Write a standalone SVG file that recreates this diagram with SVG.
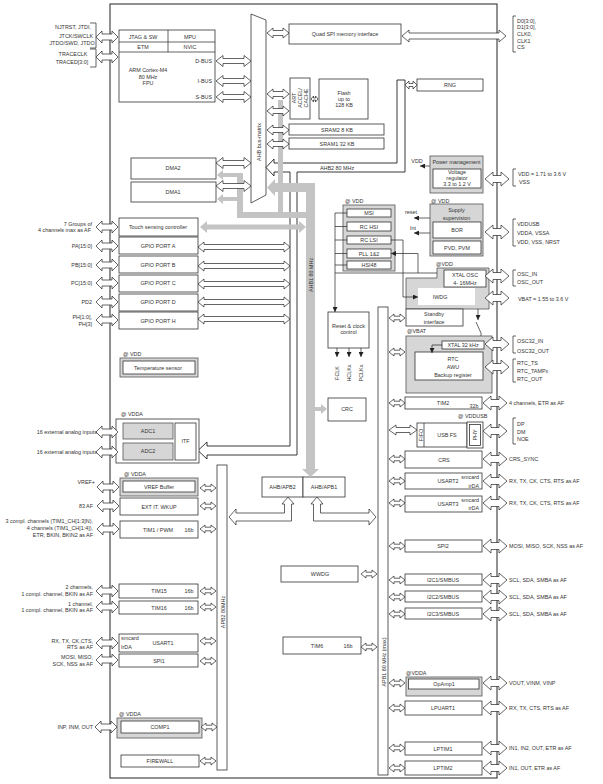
<svg xmlns="http://www.w3.org/2000/svg" width="603" height="784" viewBox="0 0 603 784">
<style>
.t{font-family:"Liberation Sans",Arial,sans-serif;font-size:5.4px;fill:#333}
.c{text-anchor:middle}
.r{text-anchor:end}
.b{fill:#fff;stroke:#333;stroke-width:0.8}
.g{fill:#d6d6d6;stroke:#555;stroke-width:0.8}
.w{fill:#fff;stroke:none}
.ar{fill:#fff;stroke:#222;stroke-width:0.7}
.gb{fill:#c4c4c4;stroke:none}
.ln{fill:none;stroke:#222;stroke-width:0.7}
.lnm{fill:none;stroke:#222;stroke-width:0.7;marker-end:url(#ah)}
.pipe{fill:none;stroke:#222;stroke-width:0.9}
</style>
<defs>
<marker id="ah" viewBox="0 0 10 10" refX="10" refY="5" markerWidth="5" markerHeight="5" markerUnits="userSpaceOnUse" orient="auto"><path d="M0,0 L10,5 L0,10 Z" fill="#222"/></marker>
<path id="aL" class="ar" d="M0,0 L6,-6 L6,-3 L16,-3 L16,-6 L22,0 L16,6 L16,3 L6,3 L6,6 Z"/>
<path id="aR" class="ar" d="M0,0 L8,-7 L8,-3.5 L16,-3.5 L16,-7 L24,0 L16,7 L16,3.5 L8,3.5 L8,7 Z"/>
<path id="aS" class="ar" d="M0,0 L5,-4 L5,-1.8 L11,-1.8 L11,-4 L16,0 L11,4 L11,1.8 L5,1.8 L5,4 Z"/>
<path id="aB" class="ar" d="M0,0 L7,-5.5 L7,-2.5 L28,-2.5 L28,-5.5 L35,0 L28,5.5 L28,2.5 L7,2.5 L7,5.5 Z"/>
<path id="aG" class="ar" d="M0,0 L6,-5 L6,-2.5 L86,-2.5 L86,-5 L92,0 L86,5 L86,2.5 L6,2.5 L6,5 Z"/>
<path id="aM" class="ar" d="M0,0 L6,-5 L6,-2.5 L16,-2.5 L16,-5 L22,0 L16,5 L16,2.5 L6,2.5 L6,5 Z"/>
</defs>
<rect x="0" y="0" width="603" height="784" fill="#fff"/>
<rect id="chip" x="110" y="4" width="387" height="774" fill="none" stroke="#222" stroke-width="1"/>

<!-- external labels left -->
<g id="ext-left">
<text class="t c" x="73" y="29">NJTRST, JTDI,</text>
<text class="t c" x="76" y="38">JTCK/SWCLK</text>
<text class="t c" x="72" y="45">JTDO/SWD, JTDO</text>
<text class="t c" x="73" y="56">TRACECLK</text>
<text class="t c" x="72" y="64">TRACED[3:0]</text>
<path class="ln" d="M90,23 L96,23 L96,48 L90,48 M90,49 L96,49 L96,67 L90,67"/>
<text class="t r" x="92" y="226">7 Groups of</text>
<text class="t r" x="91" y="232">4 channels max as AF</text>
<text class="t r" x="92" y="248">PA[15:0]</text>
<text class="t r" x="92" y="267">PB[15:0]</text>
<text class="t r" x="92" y="285">PC[15:0]</text>
<text class="t r" x="92" y="304">PD2</text>
<text class="t r" x="92" y="319">PH[1:0],</text>
<text class="t r" x="92" y="326">PH[3]</text>
<text class="t r" x="97" y="434">16 external analog inputs</text>
<text class="t r" x="97" y="454">16 external analog inputs</text>
<text class="t r" x="95" y="484">VREF+</text>
<text class="t r" x="93" y="508">83 AF</text>
<text class="t r" x="93" y="523">3 compl. channels (TIM1_CH[1:3]N),</text>
<text class="t r" x="93" y="530">4 channels (TIM1_CH[1:4]),</text>
<text class="t r" x="93" y="537">ETR, BKIN, BKIN2 as AF</text>
<text class="t r" x="93" y="589">2 channels,</text>
<text class="t r" x="93" y="596">1 compl. channel, BKIN as AF</text>
<text class="t r" x="93" y="606">1 channel,</text>
<text class="t r" x="93" y="612">1 compl. channel, BKIN as AF</text>
<text class="t r" x="93" y="643">RX, TX, CK,CTS,</text>
<text class="t r" x="93" y="649">RTS as AF</text>
<text class="t r" x="93" y="659">MOSI, MISO,</text>
<text class="t r" x="93" y="666">SCK, NSS as AF</text>
<text class="t r" x="93" y="729">INP, INM, OUT</text>
</g>

<!-- external labels right -->
<g id="ext-right">
<path class="ln" d="M516,16 L513,16 L513,52 L516,52 M516,169 L513,169 L513,186 L516,186 M516,219 L513,219 L513,246 L516,246 M516,270 L513,270 L513,286 L516,286 M516,336 L513,336 L513,353 L516,353 M516,359 L513,359 L513,382 L516,382 M516,418 L513,418 L513,444 L516,444"/>
<text class="t" x="517" y="23">D0[3:0],</text>
<text class="t" x="517" y="29">D1[3:0],</text>
<text class="t" x="517" y="36">CLK0,</text>
<text class="t" x="517" y="43">CLK1</text>
<text class="t" x="517" y="49">CS</text>
<text class="t" x="518" y="176">VDD = 1.71 to 3.6 V</text>
<text class="t" x="519" y="184">VSS</text>
<text class="t" x="517" y="226">VDDUSB</text>
<text class="t" x="517" y="235">VDDA, VSSA</text>
<text class="t" x="517" y="244">VDD, VSS, NRST</text>
<text class="t" x="517" y="276">OSC_IN</text>
<text class="t" x="517" y="284">OSC_OUT</text>
<text class="t" x="518" y="301">VBAT = 1.55 to 3.6 V</text>
<text class="t" x="517" y="343">OSC32_IN</text>
<text class="t" x="517" y="353">OSC32_OUT</text>
<text class="t" x="517" y="365">RTC_TS</text>
<text class="t" x="517" y="373">RTC_TAMPx</text>
<text class="t" x="517" y="381">RTC_OUT</text>
<text class="t" x="509" y="405">4 channels, ETR as AF</text>
<text class="t" x="517" y="426">DP</text>
<text class="t" x="517" y="434">DM</text>
<text class="t" x="517" y="441">NOE</text>
<text class="t" x="509" y="461">CRS_SYNC</text>
<text class="t" x="509" y="483">RX, TX, CK, CTS, RTS as AF</text>
<text class="t" x="509" y="505">RX, TX, CK, CTS, RTS as AF</text>
<text class="t" x="509" y="548">MOSI, MISO, SCK, NSS as AF</text>
<text class="t" x="509" y="582">SCL, SDA, SMBA as AF</text>
<text class="t" x="509" y="599">SCL, SDA, SMBA as AF</text>
<text class="t" x="509" y="616">SCL, SDA, SMBA as AF</text>
<text class="t" x="509" y="685">VOUT, VINM, VINP</text>
<text class="t" x="509" y="710">RX, TX, CTS, RTS as AF</text>
<text class="t" x="509" y="750">IN1, IN2, OUT, ETR as AF</text>
<text class="t" x="509" y="770">IN1, OUT, ETR as AF</text>
</g>

<!-- buses -->
<g id="ahb-matrix">
<path class="b" d="M251,14 L266,20 L266,195 L251,203 Z"/>
<text class="t c" transform="translate(261,142) rotate(-90)">AHB bus-matrix</text>
</g>
<g id="apb2-bus">
<rect class="b" x="217" y="465" width="10" height="305"/>
<text class="t c" transform="translate(224.5,612) rotate(-90)">APB2 80MHz</text>
</g>
<g id="apb1-bus">
<rect class="b" x="378" y="307" width="10" height="468"/>
<text class="t c" transform="translate(385.5,662) rotate(-90)">APB1 80 MHz (max)</text>
</g>
<g id="ahb2-bus">
<path class="pipe" d="M266,167.5 L274,159 L274,163 L397,163 L397,80 L405,80 L405,172 L297,172 L297,455 L207,455 L207,459 L198,450.5 L207,442 L207,446 L290,446 L290,172 L274,172 L274,176 Z"/>
<text class="t c" x="337" y="169.5">AHB2 80 MHz</text>
</g>

<!-- nodes -->
<g id="cortex">
<rect class="b" x="119" y="30" width="96" height="72"/>
<path class="ln" d="M119,42 L215,42 M119,52 L215,52 M168,30 L168,52"/>
<text class="t c" x="143" y="39">JTAG &amp; SW</text>
<text class="t c" x="190" y="39">MPU</text>
<text class="t c" x="143" y="49">ETM</text>
<text class="t c" x="190" y="49">NVIC</text>
<text class="t c" x="148" y="72">ARM Cortex-M4</text>
<text class="t c" x="148" y="79">80 MHz</text>
<text class="t c" x="148" y="85">FPU</text>
<text class="t r" x="212" y="63">D-BUS</text>
<text class="t r" x="212" y="83">I-BUS</text>
<text class="t r" x="212" y="99">S-BUS</text>
</g>
<g id="quadspi"><rect class="b" x="289" y="24" width="112" height="20"/><text class="t c" x="345" y="36">Quad SPI memory interface</text></g>
<g id="art"><rect class="b" x="290" y="78" width="20" height="41"/>
<text class="t c" transform="translate(300,98) rotate(-90)"><tspan x="0" y="-4">ART</tspan><tspan x="0" y="2">ACCEL/</tspan><tspan x="0" y="8">CACHE</tspan></text></g>
<g id="flash"><rect class="b" x="319" y="79" width="49" height="40"/>
<text class="t c" x="344" y="95">Flash</text><text class="t c" x="344" y="101">up to</text><text class="t c" x="344" y="107">128 KB</text></g>
<g id="sram2"><rect class="b" x="289" y="124" width="95" height="11"/><text class="t c" x="337" y="131.5">SRAM2 8 KB</text></g>
<g id="sram1"><rect class="b" x="289" y="138" width="95" height="11"/><text class="t c" x="337" y="145.5">SRAM1 32 KB</text></g>
<g id="rng"><rect class="b" x="417" y="79" width="66" height="12"/><text class="t c" x="450" y="87">RNG</text></g>
<g id="power">
<rect class="g" x="430" y="156" width="53" height="37"/>
<rect class="b" x="433" y="169" width="48" height="19"/>
<text class="t c" x="456.5" y="164">Power management</text>
<text class="t c" x="457" y="174">Voltage</text><text class="t c" x="457" y="180">regulator</text><text class="t c" x="457" y="186">3.3 to 1.2 V</text>
<text class="t c" x="417" y="163">VDD</text>
</g>
<g id="dma2"><rect class="b" x="131" y="158" width="85" height="21"/><text class="t c" x="173" y="170">DMA2</text></g>
<g id="dma1"><rect class="b" x="131" y="182" width="85" height="20"/><text class="t c" x="173" y="194">DMA1</text></g>
<g id="touch"><rect class="b" x="119" y="218" width="79" height="18"/><text class="t c" x="158" y="229">Touch sensing controller</text></g>
<g id="gpioa"><rect class="b" x="119" y="237" width="79" height="17"/><text class="t c" x="158" y="248">GPIO PORT A</text></g>
<g id="gpiob"><rect class="b" x="119" y="256" width="79" height="17"/><text class="t c" x="158" y="267">GPIO PORT B</text></g>
<g id="gpioc"><rect class="b" x="119" y="275" width="79" height="17"/><text class="t c" x="158" y="285">GPIO PORT C</text></g>
<g id="gpiod"><rect class="b" x="119" y="294" width="79" height="17"/><text class="t c" x="158" y="304">GPIO PORT D</text></g>
<g id="gpioh"><rect class="b" x="119" y="312" width="79" height="17"/><text class="t c" x="158" y="323">GPIO PORT H</text></g>
<g id="tempsensor">
<text class="t" x="123" y="356">@ VDD</text>
<rect class="g" x="120" y="358" width="78" height="19"/>
<rect class="b" x="123" y="361" width="72" height="13"/>
<text class="t c" x="158" y="369.5">Temperature sensor</text>
</g>
<g id="clocks">
<text class="t" x="345" y="203">@ VDD</text>
<rect class="g" x="343" y="205" width="52" height="66"/>
<rect class="b" x="347" y="209" width="44" height="8"/><text class="t c" x="369" y="215">MSI</text>
<rect class="b" x="347" y="222" width="44" height="9"/><text class="t c" x="369" y="228.5">RC HSI</text>
<rect class="b" x="347" y="236" width="44" height="8"/><text class="t c" x="369" y="242">RC LSI</text>
<rect class="b" x="347" y="249" width="44" height="9"/><text class="t c" x="369" y="255.5">PLL 1&amp;2</text>
<rect class="b" x="347" y="261" width="44" height="8"/><text class="t c" x="369" y="267">HSI48</text>
</g>
<g id="supply">
<text class="t" x="431" y="203">@ VDD</text>
<rect class="g" x="430" y="204" width="53" height="52"/>
<text class="t c" x="456.5" y="212">Supply</text><text class="t c" x="456.5" y="220">supervision</text>
<rect class="b" x="433" y="222" width="48" height="16"/><text class="t c" x="457" y="232">BOR</text>
<rect class="b" x="433" y="241" width="48" height="13"/><text class="t c" x="457" y="249.5">PVD, PVM</text>
<text class="t c" x="411" y="214">reset</text>
<text class="t c" x="413" y="230">Int</text>
</g>
<g id="hse-iwdg">
<text class="t" x="436" y="266">@VDD</text>
<path class="g" d="M437,268 L489,268 L489,309 L406,309 L406,278 L437,278 Z"/>
<rect class="w" x="418" y="288" width="57" height="17"/>
<text class="t c" x="440" y="299">IWDG</text>
<rect class="b" x="444" y="270" width="42" height="17"/>
<text class="t c" x="465" y="277">XTAL OSC</text><text class="t c" x="465" y="285">4- 16MHz</text>
</g>
<g id="standby"><rect class="b" x="406" y="309" width="57" height="17"/><text class="t c" x="434" y="316">Standby</text><text class="t c" x="434" y="324">interface</text></g>
<g id="rcc"><rect class="b" x="328" y="312" width="41" height="36"/><text class="t c" x="348.5" y="328">Reset &amp; clock</text><text class="t c" x="348.5" y="334">control</text>
<text class="t c" transform="translate(339,373) rotate(-90)">FCLK</text>
<text class="t c" transform="translate(351,373) rotate(-90)">HCLKx</text>
<text class="t c" transform="translate(363,373) rotate(-90)">PCLKx</text>
</g>
<g id="vbat">
<text class="t" x="407" y="333">@VBAT</text>
<rect class="g" x="406" y="336" width="86" height="57"/>
<rect class="b" x="442" y="341" width="42" height="8"/><text class="t c" x="463" y="347">XTAL 32 kHz</text>
<rect class="b" x="415" y="352" width="68" height="28"/>
<text class="t c" x="453" y="361">RTC</text><text class="t c" x="453" y="369">AWU</text><text class="t c" x="453" y="376.5">Backup register</text>
</g>
<g id="crc"><rect class="b" x="328" y="398" width="38" height="23"/><text class="t c" x="347" y="411">CRC</text></g>
<g id="tim2"><rect class="b" x="405" y="397" width="77" height="12"/><text class="t c" x="443" y="405">TIM2</text><text class="t c" x="474" y="407.5">32b</text></g>
<g id="usb">
<text class="t" x="458" y="418">@ VDDUSB</text>
<rect class="b" x="417" y="423" width="50" height="24"/>
<path class="ln" d="M424,423 L424,447"/>
<text class="t c" transform="translate(422.5,435) rotate(-90)">FIFO</text>
<text class="t c" x="447" y="437">USB FS</text>
<rect class="b" x="467" y="422" width="16" height="26"/>
<rect class="b" x="469.5" y="424.5" width="11" height="21"/>
<text class="t c" transform="translate(477,435) rotate(-90)">PHY</text>
</g>
<g id="crs"><rect class="b" x="405" y="451" width="77" height="17"/><text class="t c" x="444" y="462">CRS</text></g>
<g id="usart2"><rect class="b" x="405" y="473" width="77" height="16"/><text class="t c" x="448" y="483">USART2</text><text class="t r" x="479" y="479">smcard</text><text class="t r" x="479" y="488">irDA</text></g>
<g id="usart3"><rect class="b" x="405" y="496" width="77" height="16"/><text class="t c" x="448" y="506">USART3</text><text class="t r" x="479" y="502">smcard</text><text class="t r" x="479" y="510">irDA</text></g>
<g id="spi2"><rect class="b" x="405" y="540" width="77" height="12"/><text class="t c" x="443" y="548">SPI2</text></g>
<g id="i2c1"><rect class="b" x="405" y="574" width="77" height="11"/><text class="t c" x="443" y="581.5">I2C1/SMBUS</text></g>
<g id="i2c2"><rect class="b" x="405" y="591" width="77" height="11"/><text class="t c" x="443" y="598.5">I2C2/SMBUS</text></g>
<g id="i2c3"><rect class="b" x="405" y="608" width="77" height="11"/><text class="t c" x="443" y="615.5">I2C3/SMBUS</text></g>
<g id="opamp"><text class="t" x="406" y="675">@VDDA</text><rect class="g" x="406" y="677" width="76" height="19"/><rect class="b" x="408.5" y="679" width="70.5" height="10"/><text class="t c" x="444" y="686">OpAmp1</text></g>
<g id="lpuart1"><rect class="b" x="405" y="701" width="77" height="14"/><text class="t c" x="443" y="710">LPUART1</text></g>
<g id="lptim1"><rect class="b" x="405" y="742" width="77" height="13"/><text class="t c" x="443" y="750.5">LPTIM1</text></g>
<g id="lptim2"><rect class="b" x="405" y="761" width="77" height="14"/><text class="t c" x="443" y="770">LPTIM2</text></g>
<g id="adc">
<text class="t" x="121" y="416">@ VDDA</text>
<rect class="b" x="116" y="419" width="83" height="44"/>
<rect class="g" x="123" y="423" width="50" height="16"/><text class="t c" x="148" y="433">ADC1</text>
<rect class="g" x="123" y="443" width="50" height="17"/><text class="t c" x="148" y="453">ADC2</text>
<rect class="b" x="175" y="423" width="21" height="37"/><text class="t c" x="185.5" y="443">ITF</text>
</g>
<g id="vref"><text class="t" x="124" y="476">@ VDDA</text><rect class="g" x="120" y="478" width="78" height="18"/><rect class="b" x="123" y="481" width="72" height="11"/><text class="t c" x="159" y="488.5">VREF Buffer</text></g>
<g id="extit"><rect class="b" x="120" y="498" width="78" height="17"/><text class="t c" x="159" y="508.5">EXT IT. WKUP</text></g>
<g id="tim1"><rect class="b" x="120" y="521" width="78" height="17"/><text class="t c" x="158" y="532">TIM1 / PWM</text><text class="t c" x="189" y="532">16b</text></g>
<g id="tim15"><rect class="b" x="119" y="584" width="79" height="14"/><text class="t c" x="159" y="593">TIM15</text><text class="t c" x="189" y="593">16b</text></g>
<g id="tim16"><rect class="b" x="119" y="601" width="79" height="13"/><text class="t c" x="159" y="609.5">TIM16</text><text class="t c" x="189" y="609.5">16b</text></g>
<g id="usart1"><rect class="b" x="119" y="634" width="79" height="18"/><text class="t c" x="163" y="645">USART1</text><text class="t" x="121" y="640">smcard</text><text class="t" x="121" y="649">IrDA</text></g>
<g id="spi1"><rect class="b" x="119" y="654" width="79" height="13"/><text class="t c" x="159" y="662.5">SPI1</text></g>
<g id="comp1"><text class="t" x="119" y="716">@ VDDA</text><rect class="g" x="117" y="718" width="85" height="20"/><rect class="b" x="121" y="721" width="78" height="12"/><text class="t c" x="160" y="729">COMP1</text></g>
<g id="firewall"><rect class="b" x="121" y="755" width="78" height="12"/><text class="t c" x="160" y="763">FIREWALL</text></g>
<g id="ahbapb2"><rect class="b" x="262" y="477" width="41" height="20"/><text class="t c" x="282.5" y="489">AHB/APB2</text></g>
<g id="ahbapb1"><rect class="b" x="303" y="477" width="42" height="20"/><text class="t c" x="324" y="489">AHB/APB1</text></g>
<g id="wwdg"><rect class="b" x="281" y="566" width="77" height="16"/><text class="t c" x="320" y="576">WWDG</text></g>
<g id="tim6"><rect class="b" x="283" y="637" width="78" height="17"/><text class="t c" x="317" y="648">TIM6</text><text class="t c" x="348" y="648">16b</text></g>

<!-- connectors -->
<g id="connectors">
<!-- gray AHB1 network -->
<path class="gb" d="M267,187.5 L275,179 L275,183 L315,183 L315,469 L319,469 L310.5,477 L302,469 L306,469 L306,192 L275,192 L275,196 Z"/>
<rect class="gb" x="278" y="100" width="5" height="118"/>
<rect class="gb" x="237" y="212" width="78" height="6"/>
<rect class="gb" x="237" y="173" width="6" height="45"/>
<path class="gb" d="M217,175 L223,170 L223,173 L240,173 L240,177 L223,177 L223,180 Z"/>
<path class="gb" d="M217,199 L223,194 L223,197 L243,197 L243,201 L223,201 L223,204 Z"/>
<path class="gb" d="M200,227 L207,221 L207,224.5 L299,224.5 L299,221 L306,227 L299,233 L299,229.5 L207,229.5 L207,233 Z"/>
<path class="gb" d="M315,407 L321,407 L321,404 L327,409 L321,414 L321,411 L315,411 Z"/>
<text class="t c" transform="translate(312.5,275) rotate(-90)">AHB1 80 MHz</text>

<!-- left external arrows -->
<use href="#aL" x="96" y="37"/><use href="#aL" x="96" y="57"/>
<use href="#aL" x="96" y="227"/><use href="#aL" x="96" y="246"/><use href="#aL" x="96" y="265"/><use href="#aL" x="96" y="283"/><use href="#aL" x="96" y="302"/><use href="#aL" x="96" y="320"/>
<use href="#aL" x="96" y="432"/><use href="#aL" x="96" y="452"/><use href="#aL" x="97" y="487"/><use href="#aL" x="97" y="506"/><use href="#aL" x="97" y="529"/>
<use href="#aL" x="96" y="591"/><use href="#aL" x="96" y="607"/><use href="#aL" x="96" y="643"/><use href="#aL" x="96" y="660"/><use href="#aL" x="95" y="727"/>

<!-- cortex / dma to bus matrix -->
<use href="#aB" x="216" y="61"/><use href="#aB" x="216" y="81"/><use href="#aB" x="216" y="97"/>
<use href="#aB" x="216" y="163"/><use href="#aB" x="216" y="186"/>
<!-- bus matrix to slaves -->
<use href="#aM" x="267" y="33"/><use href="#aM" x="267" y="94"/><use href="#aM" x="267" y="111"/><use href="#aM" x="267" y="130"/><use href="#aM" x="267" y="144"/>
<path class="ar" d="M402,36 L409,30 L409,33 L499,33 L499,30 L506,36 L499,42 L499,39 L409,39 L409,42 Z"/>
<path class="ar" d="M405,85 L409,81 L409,83.5 L413,83.5 L413,81 L417,85 L413,89 L413,86.5 L409,86.5 L409,89 Z"/>
<path class="ar" d="M311,99 L313.5,96 L313.5,98 L315.5,98 L315.5,96 L318,99 L315.5,102 L315.5,100 L313.5,100 L313.5,102 Z"/>
<!-- GPIO to AHB2 -->
<use href="#aG" x="198" y="247"/><use href="#aG" x="198" y="266"/><use href="#aG" x="198" y="284"/><use href="#aG" x="198" y="302"/><use href="#aG" x="198" y="319"/>
<!-- APB2 peripherals -->
<use href="#aS" x="200" y="488"/><use href="#aS" x="200" y="506"/><use href="#aS" x="200" y="529"/><use href="#aS" x="200" y="591"/><use href="#aS" x="200" y="607"/><use href="#aS" x="200" y="641"/><use href="#aS" x="200" y="661"/><use href="#aS" x="201" y="727"/><use href="#aS" x="200" y="761"/>
<!-- APB1 peripherals -->
<use href="#aS" x="389" y="403"/><use href="#aS" x="389" y="459"/><use href="#aS" x="389" y="481"/><use href="#aS" x="389" y="503"/><use href="#aS" x="389" y="546"/><use href="#aS" x="389" y="580"/><use href="#aS" x="389" y="597"/><use href="#aS" x="389" y="614"/><use href="#aS" x="389" y="683"/><use href="#aS" x="389" y="708"/><use href="#aS" x="389" y="748"/><use href="#aS" x="389" y="768"/>
<use href="#aS" x="389" y="318"/><use href="#aS" x="389" y="352"/>
<use href="#aS" x="361" y="574"/><use href="#aS" x="361" y="647"/>
<path class="ar" d="M389,430 L396,425 L396,427.5 L410,427.5 L410,425 L417,430 L410,435 L410,432.5 L396,432.5 L396,435 Z"/>
<!-- right external -->
<use href="#aR" x="485" y="179"/><use href="#aR" x="485" y="232"/><use href="#aR" x="485" y="276"/><use href="#aR" x="485" y="298"/><use href="#aR" x="485" y="344"/><use href="#aR" x="485" y="367"/>
<use href="#aR" x="483" y="403"/><use href="#aR" x="483" y="431"/><use href="#aR" x="483" y="459"/><use href="#aR" x="483" y="481"/><use href="#aR" x="483" y="503"/><use href="#aR" x="483" y="546"/><use href="#aR" x="483" y="580"/><use href="#aR" x="483" y="597"/><use href="#aR" x="483" y="614"/><use href="#aR" x="483" y="683"/><use href="#aR" x="483" y="708"/><use href="#aR" x="483" y="748"/><use href="#aR" x="483" y="768"/>
<!-- AHB/APB bridges -->
<path class="ar" d="M288,497 L294,504 L291.5,504 L291.5,521 L236,521 L236,525 L229,517 L236,509 L236,513 L284.5,513 L284.5,504 L282,504 Z"/>
<path class="ar" d="M317,497 L323,504 L320.5,504 L320.5,513 L369,513 L369,509 L376,517 L369,525 L369,521 L313.5,521 L313.5,504 L311,504 Z"/>
<!-- clock tree lines -->
<path class="lnm" d="M335,213 L335,312"/>
<path class="ln" d="M335,213 L347,213 M335,226.5 L347,226.5 M335,240 L347,240 M335,253.5 L347,253.5 M335,265 L347,265 M335,273 L437,273"/>
<path class="lnm" d="M418,273 L418,253.5 L391,253.5"/>
<path class="lnm" d="M391,240 L403,240 L403,297 L418,297"/>
<path class="lnm" d="M337,348 L337,357"/>
<path class="lnm" d="M349,348 L349,357"/>
<path class="lnm" d="M361,348 L361,357"/>
<path class="lnm" d="M430,218 L414,218"/>
<path class="lnm" d="M430,233 L414,233"/>
<path class="lnm" d="M430,166 L420,166"/>
<path class="lnm" d="M442,345 L432,345 L432,353"/>
<path class="lnm" d="M478,309 L478,320"/>
<path class="ln" d="M476,322 L481,333 L481,336"/>
</g>
</svg>
